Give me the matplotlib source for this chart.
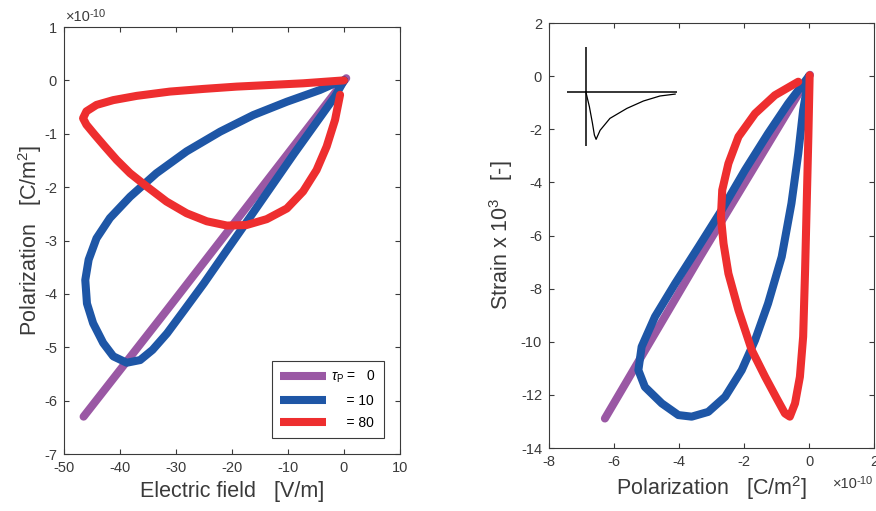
import numpy as np
import matplotlib
matplotlib.use('Agg')
import matplotlib.pyplot as plt

plt.rcParams['font.family'] = ['Liberation Sans', 'DejaVu Sans']
plt.rcParams['mathtext.fontset'] = 'custom'
plt.rcParams['mathtext.rm'] = 'Liberation Sans'
plt.rcParams['mathtext.it'] = 'Liberation Sans:italic'
plt.rcParams['mathtext.bf'] = 'Liberation Sans:bold'
plt.rcParams['axes.unicode_minus'] = False

# colours of the three relaxation times
c_purple = '#9a58a4'
c_blue = '#1e56a6'
c_red = '#ee2e2f'
gray = '#3a3a3a'

labels = [r'$\tau_{\rm P}$ =   0', '    = 10', '    = 80']

# ---- left panel: polarization (x1e-10 C/m^2) vs electric field (V/m)
E_0 = [0.4, -16.4, -31.6, -46.5]
P_0 = [0.04, -2.24, -4.3, -6.3]

E_10 = [0, -1.6, -4.6, -8.9, -12.6, -16.9, -21.1, -25.0, -28.5, -31.6, -34.2, -36.4,
        -38.8, -41.2, -43.0, -44.8, -45.9, -46.2, -45.6, -44.2, -41.8, -38.2, -33.5,
        -28.1, -22.1, -16.2, -10.2, -4.3, -1.5, 0]
P_10 = [0, -0.30, -0.74, -1.37, -1.93, -2.58, -3.21, -3.80, -4.30, -4.74, -5.05, -5.24,
        -5.29, -5.17, -4.92, -4.55, -4.18, -3.74, -3.36, -2.96, -2.58, -2.18, -1.74,
        -1.33, -0.96, -0.65, -0.40, -0.18, -0.05, 0]

E_80 = [0, -7.3, -13.2, -19.2, -25.1, -31.1, -37.0, -41.2, -44.2, -46.0, -46.6, -46.0,
        -44.5, -42.7, -40.6, -38.2, -35.2, -31.7, -28.1, -24.5, -20.9, -17.4, -13.8,
        -10.2, -7.3, -4.9, -3.1, -1.6, -0.7]
P_80 = [0, -0.055, -0.086, -0.117, -0.16, -0.21, -0.29, -0.37, -0.46, -0.58, -0.71, -0.83,
        -1.02, -1.24, -1.49, -1.74, -1.99, -2.27, -2.49, -2.64, -2.72, -2.71, -2.60,
        -2.40, -2.08, -1.68, -1.24, -0.74, -0.27]

# ---- right panel: strain (x1e-3) vs polarization (x1e-10 C/m^2)
Pr_0 = [0.03, -3.35, -6.28]
S_0 = [0.05, -6.8, -12.89]

Pr_10 = [0, -0.64, -1.26, -1.97, -2.69, -3.40, -4.12, -4.74, -5.15, -5.25, -5.05,
         -4.53, -4.02, -3.61, -3.10, -2.58, -2.07, -1.66, -1.26, -0.84, -0.54, -0.33,
         -0.18, 0]
S_10 = [0, -1.03, -2.16, -3.54, -5.05, -6.43, -7.81, -9.06, -10.19, -11.07, -11.7,
        -12.32, -12.76, -12.82, -12.64, -12.07, -11.07, -9.94, -8.56, -6.8, -4.79, -2.91,
        -1.28, 0]

Pr_80 = [0.02, -0.02, -0.07, -0.12, -0.18, -0.28, -0.43, -0.59, -0.74, -0.995, -1.35,
         -1.76, -2.17, -2.48, -2.63, -2.71, -2.67, -2.48, -2.17, -1.66, -1.05, -0.33]
S_80 = [0.03, -2.28, -4.79, -7.3, -9.81, -11.32, -12.32, -12.82, -12.7, -12.13, -11.32,
        -10.32, -8.81, -7.43, -6.3, -5.3, -4.29, -3.29, -2.28, -1.41, -0.72, -0.21]

# inset: pulse sketch (arbitrary units)
inset_t = [0, 0.04, 0.074, 0.096, 0.115, 0.16, 0.27, 0.46, 0.645, 0.83, 1.0]
inset_y = [0, -0.315, -0.66, -0.91, -1.0, -0.81, -0.56, -0.35, -0.195, -0.09, -0.05]

fig = plt.figure(figsize=(8.76, 5.11), dpi=100)
ax1 = fig.add_axes([64/876, 57/511, 336/876, 427/511])
ax2 = fig.add_axes([549/876, 63/511, 325/876, 425/511])

lw = 5.8
style = dict(lw=lw, solid_capstyle='round', solid_joinstyle='round')
for ax in (ax1, ax2):
    for s in ax.spines.values():
        s.set_color(gray)
        s.set_linewidth(0.8)
    ax.tick_params(direction='in', length=3.6, width=0.8, colors=gray,
                   labelsize=10.5, top=True, right=True, pad=5)

ax1.plot(E_0, P_0, color=c_purple, label=labels[0], **style)
ax1.plot(E_10, P_10, color=c_blue, label=labels[1], **style)
ax1.plot(E_80, P_80, color=c_red, label=labels[2], **style)
ax1.set_xlim(-50, 10)
ax1.set_ylim(-7, 1)
ax1.set_xticks(np.arange(-50, 11, 10))
ax1.set_yticks(np.arange(-7, 2, 1))
ax1.set_xlabel('Electric field   [V/m]', fontsize=15.5, color=gray, labelpad=4)
ax1.set_ylabel('Polarization   [C/m$^2$]', fontsize=15.5, color=gray, labelpad=0)

# exponent labels (x10^-10)
t1 = ax1.text(0.006, 1.008, '\u00d710', transform=ax1.transAxes, fontsize=10.5,
              color=gray, ha='left', va='bottom')
ax1.annotate('-10', xy=(1, 1), xycoords=t1, xytext=(-0.8, -3.0), textcoords='offset points',
             fontsize=8, color=gray, ha='left', va='center')

leg = ax1.legend(loc='lower right', bbox_to_anchor=(0.952, 0.0375), borderaxespad=0,
                 fontsize=10, handlelength=3.3, labelspacing=0.62, fancybox=False,
                 framealpha=1, edgecolor=gray, borderpad=0.55, handletextpad=0.4)
leg.get_frame().set_linewidth(0.8)
for line in leg.get_lines():
    line.set_solid_capstyle('butt')

ax2.plot(Pr_0, S_0, color=c_purple, **style)
ax2.plot(Pr_10, S_10, color=c_blue, **style)
ax2.plot(Pr_80, S_80, color=c_red, **style)
ax2.set_xlim(-8, 2)
ax2.set_ylim(-14, 2)
ax2.set_xticks(np.arange(-8, 3, 2))
ax2.set_yticks(np.arange(-14, 3, 2))
ax2.set_xlabel('Polarization   [C/m$^2$]', fontsize=15.5, color=gray, labelpad=4)
ax2.set_ylabel('Strain x 10$^3$   [-]', fontsize=15.5, color=gray, labelpad=4)

t2 = ax2.text(0.874, -0.101, '\u00d710', transform=ax2.transAxes, fontsize=10.5,
              color=gray, ha='left', va='bottom')
ax2.annotate('-10', xy=(1, 1), xycoords=t2, xytext=(-0.8, -3.0), textcoords='offset points',
             fontsize=8, color=gray, ha='left', va='center')

# small pulse sketch in the corner of the right panel
axi = fig.add_axes([566.7/876, (511-146)/511, 110.6/876, 99.3/511])
axi.axhline(0, color='black', lw=1.1)
axi.axvline(0, color='black', lw=1.1)
axi.plot(inset_t, inset_y, color='black', lw=0.9)
axi.set_xlim(-0.214, 1.024)
axi.set_ylim(-1.14, 0.945)
axi.axis('off')

plt.savefig('out.png', dpi=100)
